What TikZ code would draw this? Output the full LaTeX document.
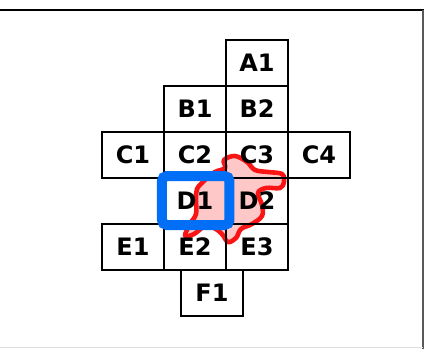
\documentclass[tikz,border=0pt]{standalone}
\usepackage{fontspec}
\setsansfont{DejaVu Sans}
\usepackage{xcolor}
\definecolor{selblue}{RGB}{0,110,245}
\definecolor{blobred}{RGB}{250,20,20}
\definecolor{blobpink}{RGB}{255,200,200}
\usetikzlibrary{positioning,calc}

\begin{document}
\begin{tikzpicture}[x=0.5pt,y=-0.5pt,
  cell/.style={draw,line width=1pt,minimum width=31pt,minimum height=23pt,inner sep=0pt,font=\sffamily\bfseries\fontsize{12}{14}\selectfont},
  selbox/.style={draw=selblue,line width=5pt,rounded corners=2.5pt,minimum width=33.75pt,minimum height=24.5pt,inner sep=0pt},
  blob/.style={draw=blobred,fill=blobpink,line width=2.3pt,line join=round}]
  \useasboundingbox (0,0) rectangle (425,349);
  % Frame
  \draw[line width=1.3pt] (0,10) -- (424,10);
  \draw[gray!70!black,line width=1pt] (423.5,10) -- (423.5,349);
  \draw[gray!25,line width=0.6pt] (0,347.5) -- (423,347.5);
  % Spill area
  \draw[blob] plot[smooth cycle,tension=0.6] coordinates {
    (224,160) (235,156) (247,162) (255,170) (268,172) (282,174) (284,182)
    (280,188) (266,188) (258,193) (262,205) (262,216) (252,224) (241,229)
    (236,238) (228,242) (222,234) (214,228) (204,227) (194,234) (185,236)
    (190,224) (196,214) (196,200) (197,189) (205,180) (215,172) (225,168)};
  % Cells
  \foreach \n/\t/\x/\y in {a1/A1/257/63,b1/B1/195/109,b2/B2/257/109,
    c1/C1/133/155,c2/C2/195/155,c3/C3/257/155,c4/C4/319/155,
    d1/D1/195/201,d2/D2/257/201,
    e1/E1/133/247,e2/E2/195/247,e3/E3/257/247,f1/F1/212/293}{
    \node[cell] (\n) at (\x,\y) {\t};
  }
  % Selected cell
  \node[selbox] (sel) at ($(d1)+(0.75,-0.5)$) {};
\end{tikzpicture}
\end{document}
